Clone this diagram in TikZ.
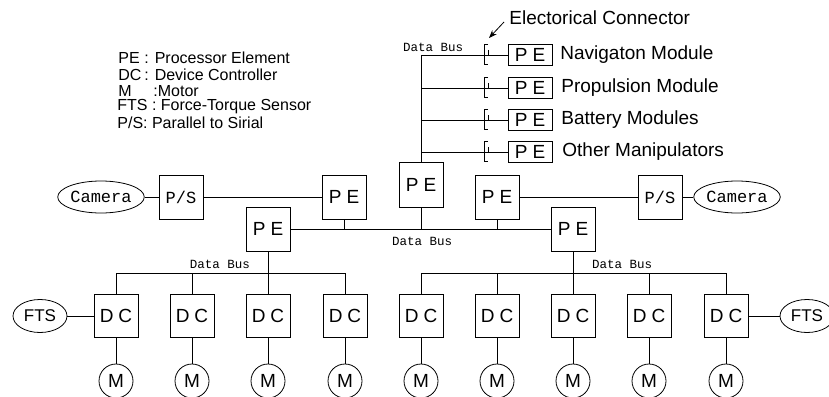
\documentclass[tikz,border=0pt]{standalone}
\usepackage{fontspec}
\setmainfont{Liberation Sans}
\setmonofont{Liberation Mono}
\usetikzlibrary{shapes.geometric,arrows.meta}

\begin{document}
\begin{tikzpicture}[x=1pt,y=-1pt,line width=0.8pt,
  every node/.style={font=\fontsize{19}{20}\selectfont},
  unit/.style={draw,minimum width=44pt,minimum height=44pt,inner sep=0pt},
  smallpe/.style={draw,minimum width=44pt,minimum height=21pt,inner sep=0pt},
  cam/.style={draw,ellipse,minimum width=76pt,minimum height=32pt,inner sep=0pt,font=\ttfamily\fontsize{17}{18}\selectfont},
  fts/.style={draw,ellipse,minimum width=54pt,minimum height=33pt,inner sep=0pt,font=\fontsize{17}{18}\selectfont},
  motor/.style={draw,circle,minimum size=34pt,inner sep=0pt,font=\fontsize{19}{20}\selectfont},
  buslabel/.style={inner sep=0pt,font=\ttfamily\fontsize{12.5}{14}\selectfont},
  legend/.style={anchor=west,inner sep=0pt,font=\fontsize{16}{18}\selectfont},
  module/.style={anchor=west,inner sep=0pt,font=\fontsize{19}{20}\selectfont}]
\useasboundingbox (0,0) rectangle (829,396);
% legend
\node[legend] (lgpe) at (118,58) {\makebox[26pt][l]{PE}: Processor Element};
\node[legend] (lgdc) at (118,75) {\makebox[26pt][l]{DC}: Device Controller};
\node[legend] (lgm) at (118,91) {\makebox[35pt][l]{M}:Motor};
\node[legend] (lgfts) at (117,107) {FTS : Force-Torque Sensor};
\node[legend] (lgps) at (117,123) {P/S: Parallel to Sirial};
% modules on the top bus
\coordinate (topbus) at (421,55);
\node[smallpe] (nav) at (530,55) {P\hspace{5pt}E};
\node[smallpe] (prop) at (530,88) {P\hspace{5pt}E};
\node[smallpe] (batt) at (530,120) {P\hspace{5pt}E};
\node[smallpe] (other) at (530,152) {P\hspace{5pt}E};
\node[module] (navtxt) at (560,55) {Navigaton Module};
\node[module] (proptxt) at (561,88) {Propulsion Module};
\node[module] (batttxt) at (561,120) {Battery Modules};
\node[module] (othertxt) at (562,152) {Other Manipulators};
\node[module] (ectxt) at (509,18) {Electorical Connector};
\node[buslabel] (tbuslbl) at (433,47) {Data Bus};
\node[unit,minimum height=45pt] (pec) at (421,185) {P\hspace{5pt}E};
\draw (topbus) -- (pec);
\draw (topbus) -- (nav);
\draw (topbus |- prop) -- (prop);
\draw (topbus |- batt) -- (batt);
\draw (topbus |- other) -- (other);
\foreach \y in {55,88,120,152}
  \draw (488,\y-11) -- (484,\y-11) -- (484,\y+9) -- (488,\y+9)
        (488,\y-5) -- (488,\y);
\coordinate (contip) at (489,38);
\draw[-{Stealth[length=8pt,width=6pt]}] ([shift={(-5,4)}]ectxt.west) -- (contip);
% processor row
\node[cam] (camL) at (101,197) {Camera};
\node[unit] (psL) at (181,197) {\ttfamily\fontsize{17}{18}\selectfont P/S};
\node[unit] (peUL) at (344,197) {P\hspace{5pt}E};
\node[unit] (peUR) at (497,197) {P\hspace{5pt}E};
\node[unit] (psR) at (660,197) {\ttfamily\fontsize{17}{18}\selectfont P/S};
\node[cam] (camR) at (737,197) {Camera};
\node[unit] (peL) at (268,229) {P\hspace{5pt}E};
\node[unit] (peR) at (573,229) {P\hspace{5pt}E};
\node[buslabel] (mbuslbl) at (422,241) {Data Bus};
\draw (camL) -- (psL);
\draw (psL) -- (peUL);
\draw (peUR) -- (psR);
\draw (psR) -- (camR);
\draw (peL) -- (peR);
\draw (peUL) -- (peUL |- peL);
\draw (peUR) -- (peUR |- peL);
\draw (pec) -- (pec |- peL);
% device controllers and motors
\coordinate (lbus) at (0,273);
\foreach \i/\x in {1/116,2/192,3/268,4/345,5/421,6/497,7/573,8/649,9/726} {
  \node[unit,minimum height=43pt] (dc\i) at (\x,316) {D\hspace{5pt}C};
  \node[motor] (m\i) at (\x,381) {M};
  \draw (dc\i) -- (m\i);
  \draw (dc\i) -- (dc\i |- lbus);
}
\draw (dc1 |- lbus) -- (dc4 |- lbus);
\draw (dc5 |- lbus) -- (dc9 |- lbus);
\draw (peL) -- (peL |- lbus);
\draw (peR) -- (peR |- lbus);
\node[buslabel] (lbuslbl) at (220,264) {Data Bus};
\node[buslabel] (rbuslbl) at (622,264) {Data Bus};
\node[fts] (ftsL) at (40,316) {FTS};
\node[fts] (ftsR) at (807,316) {FTS};
\draw (ftsL) -- (dc1);
\draw (dc9) -- (ftsR);
\end{tikzpicture}
\end{document}
